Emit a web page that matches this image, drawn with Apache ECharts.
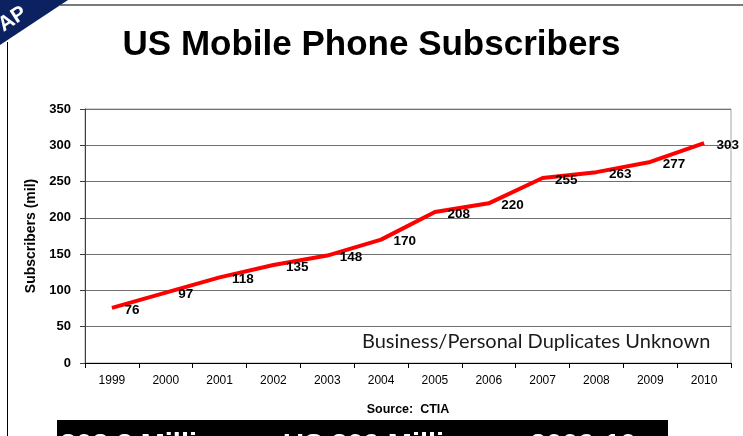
<!DOCTYPE html>
<html>
<head>
<meta charset="utf-8">
<script src="https://cdn.jsdelivr.net/npm/echarts@6/dist/echarts.min.js"></script>
<style>
  html, body { margin: 0; padding: 0; background: #ffffff; }
  #chart { width: 743px; height: 436px; }
</style>
</head>
<body>
<div id="chart"></div>
<script>
// US mobile phone subscribers (millions), 1999-2010
const years = ['1999', '2000', '2001', '2002', '2003', '2004', '2005', '2006', '2007', '2008', '2009', '2010'];
const subscribers = [76, 97, 118, 135, 148, 170, 208, 220, 255, 263, 277, 303];
const yTicks = { min: 0, max: 350, interval: 50 };

const chart = echarts.init(document.getElementById('chart'), null, { renderer: 'canvas' });

const captionFont = 'bold 29px Liberation Sans, Arial';

chart.setOption({
  animation: false,
  backgroundColor: '#ffffff',
  title: {
    text: 'US Mobile Phone Subscribers',
    left: 'center',
    top: 23,
    textStyle: { fontFamily: 'Liberation Sans, Arial', fontWeight: 'bold', fontSize: 35, color: '#000000' }
  },
  grid: {
    left: 85, right: 12, top: 109, bottom: 73,
    show: true, borderColor: '#a6a6a6', borderWidth: 1, backgroundColor: 'transparent'
  },
  xAxis: {
    type: 'category',
    data: years,
    boundaryGap: true,
    name: 'Source:  CTIA',
    nameLocation: 'middle',
    nameGap: 40,
    nameTextStyle: { fontFamily: 'Liberation Sans, Arial', fontWeight: 'bold', fontSize: 12.5, color: '#000' },
    axisLine: { lineStyle: { color: '#000000', width: 1 } },
    axisTick: { show: true, length: 5, lineStyle: { color: '#000000' } },
    axisLabel: { margin: 12, fontFamily: 'Liberation Sans, Arial', fontSize: 12, color: '#000' },
    splitLine: { show: false }
  },
  yAxis: {
    type: 'value',
    min: yTicks.min, max: yTicks.max, interval: yTicks.interval,
    name: 'Subscribers (mil)',
    nameLocation: 'middle',
    nameGap: 40,
    nameRotate: 90,
    nameTextStyle: { fontFamily: 'Liberation Sans, Arial', fontWeight: 'bold', fontSize: 14, color: '#000' },
    axisLine: { show: true, lineStyle: { color: '#404040', width: 1 } },
    axisTick: { show: true, length: 5, lineStyle: { color: '#404040' } },
    axisLabel: { margin: 14, fontFamily: 'Liberation Sans, Arial', fontWeight: 'bold', fontSize: 13, color: '#000' },
    splitLine: { show: true, lineStyle: { color: '#707070', width: 1 } }
  },
  series: [{
    type: 'line',
    data: subscribers,
    showSymbol: true,
    symbol: 'circle',
    symbolSize: 1,
    itemStyle: { color: 'rgba(255,0,0,0)', borderWidth: 0 },
    lineStyle: { color: '#ff0000', width: 4 },
    label: {
      show: true,
      position: 'right',
      distance: 12,
      offset: [0, 2],
      fontFamily: 'Liberation Sans, Arial',
      fontWeight: 'bold',
      fontSize: 13.5,
      color: '#000000'
    },
    z: 3
  }],
  graphic: [
    // thin page frame: top rule and left rule
    { type: 'line', shape: { x1: 60, y1: 5, x2: 743, y2: 5 }, style: { stroke: '#7a7a7a', lineWidth: 2 } },
    { type: 'line', shape: { x1: 7.5, y1: 42, x2: 7.5, y2: 436 }, style: { stroke: '#000000', lineWidth: 1 } },
    // corner ribbon
    { type: 'polygon', shape: { points: [[0, 0], [68, 0], [0, 45]] }, style: { fill: '#0c2260' } },
    {
      type: 'text', x: 6, y: 36, rotation: Math.PI * 33 / 180,
      style: { text: 'AP', fill: '#ffffff', font: 'bold 21px Liberation Sans, Arial', textVerticalAlign: 'bottom' }
    },
    // note inside the plot
    {
      type: 'text', left: 362, top: 332,
      style: { text: 'Business/Personal Duplicates Unknown', fill: '#1a1a1a', font: '20px Lato, Carlito, sans-serif' }
    },
    // caption bar at the foot of the page
    { type: 'rect', shape: { x: 57, y: 420, width: 611, height: 20 }, style: { fill: '#000000' } },
    { type: 'text', left: 60, top: 431, style: { text: '303.3 Million', fill: '#ffffff', font: captionFont } },
    { type: 'text', left: 283, top: 431, style: { text: 'US 309 Million', fill: '#ffffff', font: captionFont } },
    { type: 'text', left: 530, top: 431, style: { text: '2009-10', fill: '#ffffff', font: captionFont } }
  ]
});
</script>
</body>
</html>
